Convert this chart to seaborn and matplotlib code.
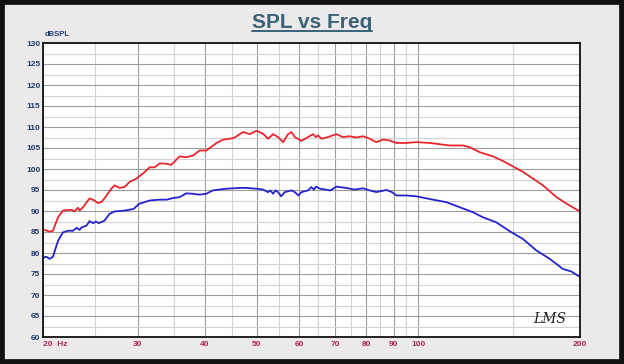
import matplotlib
matplotlib.use('Agg')
import matplotlib.pyplot as plt
from matplotlib.ticker import FixedLocator, NullFormatter
from matplotlib.patches import Rectangle
from matplotlib.lines import Line2D
import numpy as np
import pandas as pd
import seaborn as sns

# Red trace (upper curve)
red_freq = [20.0, 20.58, 20.87, 21.33, 21.78, 22.58, 22.91, 23.23, 23.40, 23.74,
            24.42, 24.95, 25.30, 25.67, 26.03, 26.80, 27.18, 27.77, 28.37, 28.98,
            29.83, 30.69, 31.59, 32.28, 32.98, 33.69, 34.67, 35.42, 35.93, 36.98,
            38.04, 39.15, 40.29, 42.1, 43.3, 44.55, 45.50, 47.16, 48.54, 49.96,
            51.39, 52.50, 53.64, 54.80, 55.99, 57.20, 58.05, 58.87, 60.59, 62.33,
            63.68, 64.42, 65.05, 66.01, 67.86, 70.35, 72.36, 74.5, 76.68, 78.9,
            81.2, 83.5, 85.9, 88.4, 91.0, 95.0, 99.1, 105.0, 108.1, 114.4,
            121.1, 124.6, 130.1, 137.7, 143.8, 150.1, 156.7, 163.5, 170.7, 180.8,
            191.3, 200.0]
red_spl = [85.6, 85.1, 85.3, 88.5, 90.1, 90.3, 89.9, 90.8, 90.1, 90.9,
           93.0, 92.5, 91.9, 92.1, 93.0, 95.3, 96.1, 95.5, 95.7, 96.9,
           97.7, 98.9, 100.4, 100.4, 101.3, 101.3, 101.0, 102.2, 103.0, 102.8,
           103.2, 104.4, 104.4, 106.2, 107.0, 107.2, 107.5, 108.8, 108.3, 109.1,
           108.4, 107.2, 108.3, 107.6, 106.4, 108.3, 108.8, 107.6, 106.7, 107.6,
           108.3, 107.6, 108.0, 107.2, 107.6, 108.3, 107.6, 107.8, 107.5, 107.8,
           107.2, 106.4, 107.0, 106.8, 106.2, 106.2, 106.4, 106.2, 106.0, 105.6,
           105.6, 105.2, 104.0, 103.0, 101.9, 100.6, 99.3, 97.7, 96.1, 93.3,
           91.3, 89.9]

# Blue trace (lower curve)
blue_freq = [20.0, 20.3, 20.58, 20.87, 21.33, 21.78, 22.25, 22.75, 23.1, 23.4,
             23.6, 24.1, 24.42, 24.8, 25.1, 25.4, 26.03, 26.6, 27.18, 28.4,
             29.5, 30.2, 30.9, 31.59, 32.98, 34.0, 35.0, 35.93, 36.98, 38.04,
             39.15, 40.29, 41.4, 43.8, 46.5, 47.7, 50.0, 51.39, 52.5, 53.0,
             53.64, 54.2, 54.8, 55.5, 56.4, 58.05, 58.87, 59.8, 60.59, 62.33,
             63.2, 63.9, 64.5, 65.6, 67.2, 68.6, 70.35, 73.3, 76.0, 78.9,
             81.2, 83.5, 87.2, 89.3, 91.0, 95.0, 99.1, 106.5, 112.8, 119.4,
             126.4, 131.9, 139.7, 147.9, 156.7, 165.9, 175.7, 185.9, 192.7, 200.0]
blue_spl = [78.9, 79.1, 78.6, 79.1, 82.9, 84.9, 85.3, 85.3, 86.0, 85.5,
            86.1, 86.5, 87.6, 87.1, 87.5, 87.1, 87.7, 89.3, 89.9, 90.1,
            90.5, 91.7, 92.1, 92.5, 92.7, 92.7, 93.1, 93.3, 94.2, 94.1,
            93.9, 94.1, 94.9, 95.3, 95.5, 95.5, 95.3, 95.1, 94.5, 94.9,
            94.1, 94.9, 94.5, 93.5, 94.5, 94.9, 94.5, 93.7, 94.5, 94.9,
            95.7, 95.1, 95.8, 95.3, 95.1, 94.9, 95.8, 95.5, 95.1, 95.4,
            94.9, 94.5, 95.0, 94.5, 93.7, 93.7, 93.5, 92.7, 92.1, 90.9,
            89.7, 88.5, 87.3, 85.2, 83.3, 80.6, 78.6, 76.2, 75.6, 74.3]

x_major = [20, 30, 40, 50, 60, 70, 80, 90, 100, 200]
x_labels = ['20  Hz', '30', '40', '50', '60', '70', '80', '90', '100', '200']
x_minor = [25, 35, 45, 55, 65, 75, 85, 95, 150]
y_major = list(range(60, 131, 5))

df = pd.concat([
    pd.DataFrame({'freq': red_freq, 'spl': red_spl, 'trace': 'red'}),
    pd.DataFrame({'freq': blue_freq, 'spl': blue_spl, 'trace': 'blue'}),
])

sns.set_style('white')
plt.rcParams['font.family'] = ['Liberation Sans', 'DejaVu Sans']

BG = '#ECE9EB'
fig = plt.figure(figsize=(6.24, 3.64), dpi=100, facecolor=BG)
ax = fig.add_axes([43 / 624, 1 - 337 / 364, 537 / 624, 294 / 364])
ax.set_facecolor('white')

sns.lineplot(data=df, x='freq', y='spl', hue='trace', palette={'red': '#E8262B', 'blue': '#2424CC'},
             linewidth=1.3, legend=False, ax=ax, sort=False)

ax.set_xscale('log')
ax.set_xlim(20, 200)
ax.set_ylim(60, 130)
ax.xaxis.set_major_locator(FixedLocator(x_major))
ax.xaxis.set_minor_locator(FixedLocator(x_minor))
ax.xaxis.set_minor_formatter(NullFormatter())
ax.set_xticklabels(x_labels)
ax.set_yticks(y_major)
ax.yaxis.set_minor_locator(FixedLocator(np.arange(62.5, 130, 5)))

ax.grid(which='major', color='#9C9C9C', linewidth=0.8)
ax.grid(which='minor', color='#D2D2D2', linewidth=0.8)
ax.set_axisbelow(True)

ax.tick_params(which='both', length=0)
ax.tick_params(axis='x', pad=3, labelsize=6, labelcolor='#B0245A')
ax.tick_params(axis='y', pad=2, labelsize=6, labelcolor='#1F3A6E')
for lbl in ax.get_xticklabels() + ax.get_yticklabels():
    lbl.set_fontweight('bold')
ax.get_xticklabels()[0].set_horizontalalignment('left')

for s in ax.spines.values():
    s.set_color('#111111')
    s.set_linewidth(1.3)

ax.set_xlabel('')
ax.set_ylabel('')

fig.text(45 / 624, 1 - 35 / 364, 'dBSPL', fontsize=5.5, fontweight='bold', color='#1F3A6E',
         ha='left', va='center')
ax.text(0.975, 0.06, 'LMS', transform=ax.transAxes, fontsize=10, style='italic',
        family='DejaVu Serif', color='#222222', ha='right', va='center')

title = fig.text(0.5, 1 - 22 / 364, 'SPL vs Freq', fontsize=15, fontweight='bold',
                 color='#3A6378', ha='center', va='center')

# underline under the title
fig.canvas.draw()
bb = title.get_window_extent().transformed(fig.transFigure.inverted())
fig.add_artist(Line2D([bb.x0, bb.x1], [bb.y0 + 0.002, bb.y0 + 0.002], transform=fig.transFigure,
                      color='#3A6378', linewidth=1.4))

# dark frame around the whole picture
fig.add_artist(Rectangle((0, 0), 1, 1, transform=fig.transFigure, fill=False,
                         edgecolor='#111111', linewidth=7))

fig.savefig('out.png', dpi=100, facecolor=BG)
